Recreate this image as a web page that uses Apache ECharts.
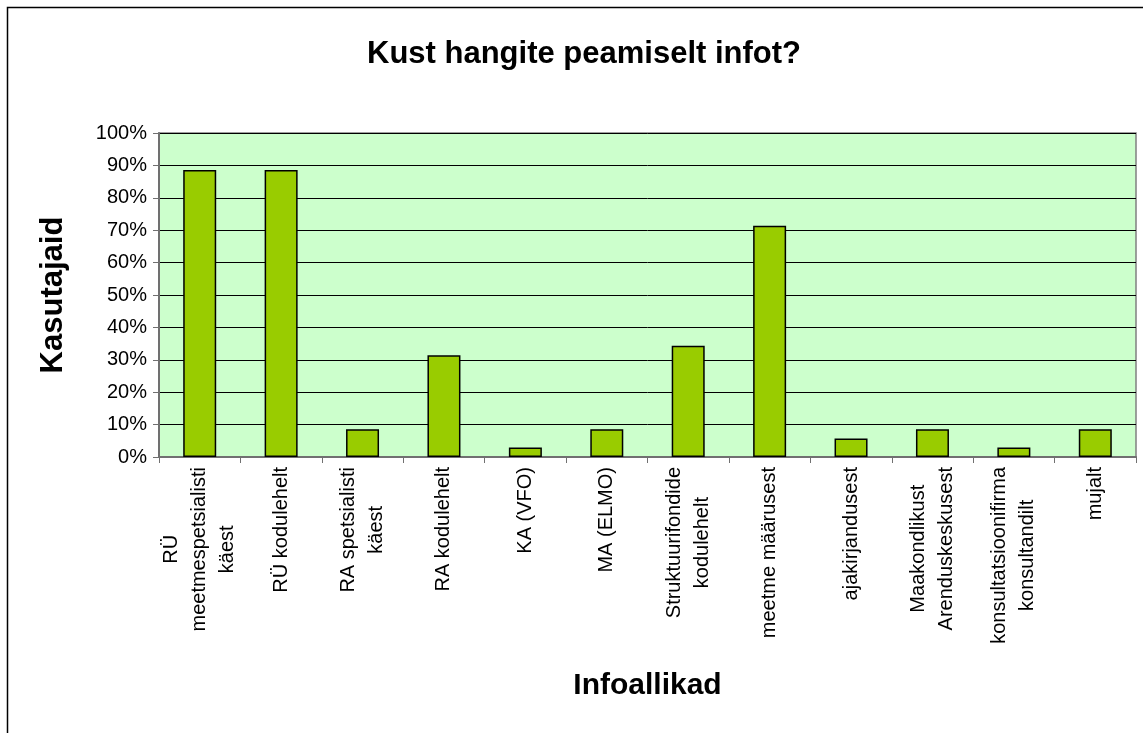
<!DOCTYPE html>
<html>
<head>
<meta charset="utf-8">
<script src="https://cdn.jsdelivr.net/npm/echarts@6/dist/echarts.min.js"></script>
<style>
html, body { margin: 0; padding: 0; background: #fff; }
#chart { width: 1143px; height: 733px; }
</style>
</head>
<body>
<div id="chart"></div>
<script>
// infoallikad (kategooriad), reavahetused nagu originaalis
const categories = [
    'RÜ\nmeetmespetsialisti\nkäest',
    'RÜ kodulehelt',
    'RA spetsialisti\nkäest',
    'RA kodulehelt',
    'KA (VFO)',
    'MA (ELMO)',
    'Struktuurifondide\nkodulehelt',
    'meetme määrusest',
    'ajakirjandusest',
    'Maakondlikust\nArenduskeskusest',
    'konsultatsioonifirma\nkonsultandilt',
    'mujalt'
];

// kasutajate osakaal, %
const shares = [88.6, 88.6, 8.6, 31.4, 2.9, 8.6, 34.3, 71.4, 5.7, 8.6, 2.9, 8.6];

// y-telje jaotised
const yMin = 0;
const yMax = 100;
const yStep = 10;

const chart = echarts.init(document.getElementById('chart'));

const option = {
    backgroundColor: '#ffffff',
    textStyle: { fontFamily: 'Liberation Sans, Arial, sans-serif', color: '#000' },
    // raam ümber diagrammi (parem ja alumine serv jäävad pildist välja)
    graphic: [{
        type: 'rect',
        shape: { x: 7.5, y: 7.5, width: 1300, height: 900 },
        style: { fill: 'none', stroke: '#000', lineWidth: 1.5 },
        silent: true
    }],
    title: {
        text: 'Kust hangite peamiselt infot?',
        left: 362,
        top: 34,
        textStyle: { fontSize: 31, fontWeight: 'bold', color: '#000', fontFamily: 'Liberation Sans, Arial, sans-serif' }
    },
    grid: {
        left: 159,
        top: 133,
        right: 7,
        bottom: 276,
        show: true,
        backgroundColor: '#CCFFCC',
        borderColor: '#808080',
        borderWidth: 1.5,
        outerBoundsMode: 'none'
    },
    xAxis: {
        type: 'category',
        data: categories,
        name: 'Infoallikad',
        nameLocation: 'middle',
        nameGap: 214,
        nameTextStyle: { fontSize: 30, fontWeight: 'bold', color: '#000' },
        axisLine: { lineStyle: { color: '#707070', width: 2 } },
        axisTick: { show: true, length: 6, lineStyle: { color: '#707070', width: 1 } },
        axisLabel: {
            rotate: 90,
            interval: 0,
            margin: 10,
            fontSize: 20,
            color: '#000',
            lineHeight: 28,
            // read keskele nagu Excelis
            formatter: function (v) {
                return v.split('\n').map(function (s) { return '{c|' + s + '}'; }).join('\n');
            },
            rich: {
                c: { align: 'center', fontSize: 20, lineHeight: 28, color: '#000' }
            }
        }
    },
    yAxis: {
        type: 'value',
        min: yMin,
        max: yMax,
        interval: yStep,
        name: 'Kasutajaid',
        nameLocation: 'middle',
        nameGap: 90,
        nameRotate: 90,
        nameTextStyle: { fontSize: 31, fontWeight: 'bold', color: '#000' },
        axisLine: { show: true, lineStyle: { color: '#707070', width: 2 } },
        axisTick: { show: true, length: 6, lineStyle: { color: '#707070', width: 1 } },
        axisLabel: {
            formatter: '{value}%',
            fontSize: 20,
            color: '#000',
            margin: 12
        },
        splitLine: { show: true, lineStyle: { color: '#000', width: 1 } }
    },
    series: [{
        type: 'bar',
        data: shares,
        barWidth: 33,
        itemStyle: { color: '#99CC00', borderColor: '#000', borderWidth: 1.5 },
        silent: true
    }]
};

chart.setOption(option);
</script>
</body>
</html>
